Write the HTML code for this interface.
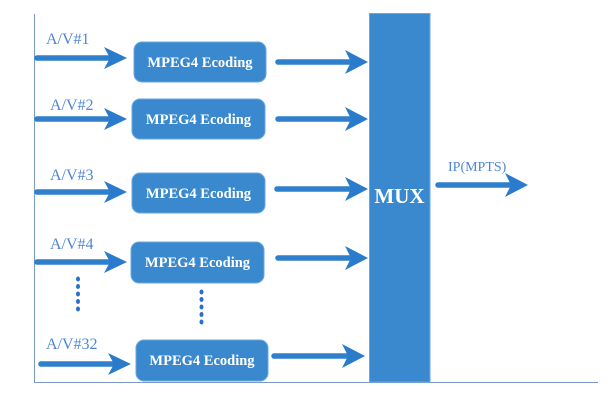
<!DOCTYPE html>
<html>
<head>
<meta charset="utf-8">
<style>
  html,body{margin:0;padding:0;background:#fff;}
  svg{display:block;}
  .lbl{font-family:"Liberation Serif","Noto Serif CJK SC",serif;font-size:16px;fill:#4f86d4;}
  .box{fill:#3a89cf;stroke:#6aa7dc;stroke-width:1;}
  .bt{font-family:"Liberation Serif",serif;font-weight:bold;font-size:14.5px;fill:#fff;}
  .shaft{stroke:#2e7fcc;stroke-width:5.5;stroke-linecap:round;fill:none;}
  .head{fill:#2a7bcb;}
  .dot{fill:#2a6fd0;}
</style>
</head>
<body>
<svg width="616" height="403" viewBox="0 0 616 403" xmlns="http://www.w3.org/2000/svg">
  <!-- frame lines -->
  <line x1="34.5" y1="14" x2="34.5" y2="382" stroke="#7a98c6" stroke-width="1"/>
  <line x1="34" y1="382.5" x2="598" y2="382.5" stroke="#7a98c6" stroke-width="1"/>

  <!-- labels -->
  <text class="lbl" x="46" y="44">A/V#1</text>
  <text class="lbl" x="50" y="110">A/V#2</text>
  <text class="lbl" x="50" y="180">A/V#3</text>
  <text class="lbl" x="50" y="249">A/V#4</text>
  <text class="lbl" x="46" y="349">A/V#32</text>

  <!-- input arrows -->
  <g>
    <line class="shaft" x1="37" y1="58" x2="110" y2="58"/>
    <polygon class="head" points="127,58 104,47 110,58 104,69"/>
    <line class="shaft" x1="37" y1="119" x2="110" y2="119"/>
    <polygon class="head" points="127,119 104,108 110,119 104,130"/>
    <line class="shaft" x1="37" y1="192" x2="110" y2="192"/>
    <polygon class="head" points="127,192 104,181 110,192 104,203"/>
    <line class="shaft" x1="37" y1="262" x2="110" y2="262"/>
    <polygon class="head" points="127,262 104,251 110,262 104,273"/>
    <line class="shaft" x1="41" y1="364" x2="113" y2="364"/>
    <polygon class="head" points="131,364 108,353 114,364 108,375"/>
  </g>

  <!-- boxes -->
  <rect class="box" x="134" y="42" width="132" height="40" rx="8"/>
  <text class="bt" x="200" y="67" text-anchor="middle">MPEG4 Ecoding</text>
  <rect class="box" x="132" y="99" width="133" height="40" rx="8"/>
  <text class="bt" x="198.5" y="124" text-anchor="middle">MPEG4 Ecoding</text>
  <rect class="box" x="132" y="173" width="133" height="40" rx="8"/>
  <text class="bt" x="198.5" y="198" text-anchor="middle">MPEG4 Ecoding</text>
  <rect class="box" x="131" y="242" width="133" height="41" rx="8"/>
  <text class="bt" x="197.5" y="267" text-anchor="middle">MPEG4 Ecoding</text>
  <rect class="box" x="136" y="340" width="132" height="41" rx="8"/>
  <text class="bt" x="202" y="365" text-anchor="middle">MPEG4 Ecoding</text>

  <!-- dots -->
  <g>
    <ellipse class="dot" cx="78" cy="279" rx="2" ry="2.5"/>
    <ellipse class="dot" cx="78" cy="286.5" rx="2" ry="2.5"/>
    <ellipse class="dot" cx="78" cy="294" rx="2" ry="2.5"/>
    <ellipse class="dot" cx="78" cy="301.5" rx="2" ry="2.5"/>
    <ellipse class="dot" cx="78" cy="309" rx="2" ry="2.5"/>
    <ellipse class="dot" cx="201.5" cy="292" rx="2" ry="2.5"/>
    <ellipse class="dot" cx="201.5" cy="299.5" rx="2" ry="2.5"/>
    <ellipse class="dot" cx="201.5" cy="307" rx="2" ry="2.5"/>
    <ellipse class="dot" cx="201.5" cy="314.5" rx="2" ry="2.5"/>
    <ellipse class="dot" cx="201.5" cy="322" rx="2" ry="2.5"/>
  </g>

  <!-- output arrows -->
  <g>
    <line class="shaft" x1="278" y1="62" x2="350" y2="62"/>
    <polygon class="head" points="368,62 345,50 351,62 345,74"/>
    <line class="shaft" x1="278" y1="119" x2="350" y2="119"/>
    <polygon class="head" points="368,119 345,107 351,119 345,131"/>
    <line class="shaft" x1="277" y1="189" x2="350" y2="189"/>
    <polygon class="head" points="368,189 345,177 351,189 345,201"/>
    <line class="shaft" x1="278" y1="258" x2="350" y2="258"/>
    <polygon class="head" points="368,258 345,246 351,258 345,270"/>
    <line class="shaft" x1="274" y1="356" x2="347" y2="356"/>
    <polygon class="head" points="365,356 342,344 348,356 342,368"/>
  </g>

  <!-- MUX -->
  <rect x="369.5" y="13.5" width="60.5" height="368.5" fill="#3a89cf" stroke="#6aa7dc" stroke-width="1"/>
  <text x="399.5" y="203" text-anchor="middle" font-family="Liberation Serif, serif" font-weight="bold" font-size="21" fill="#fff">MUX</text>

  <!-- IP output -->
  <text x="448" y="171" font-family="Liberation Serif, serif" font-size="14" fill="#4f86d4">IP(MPTS)</text>
  <line class="shaft" x1="438" y1="185" x2="510" y2="185"/>
  <polygon class="head" points="528,185 505,173 511,185 505,197"/>
</svg>
</body>
</html>
